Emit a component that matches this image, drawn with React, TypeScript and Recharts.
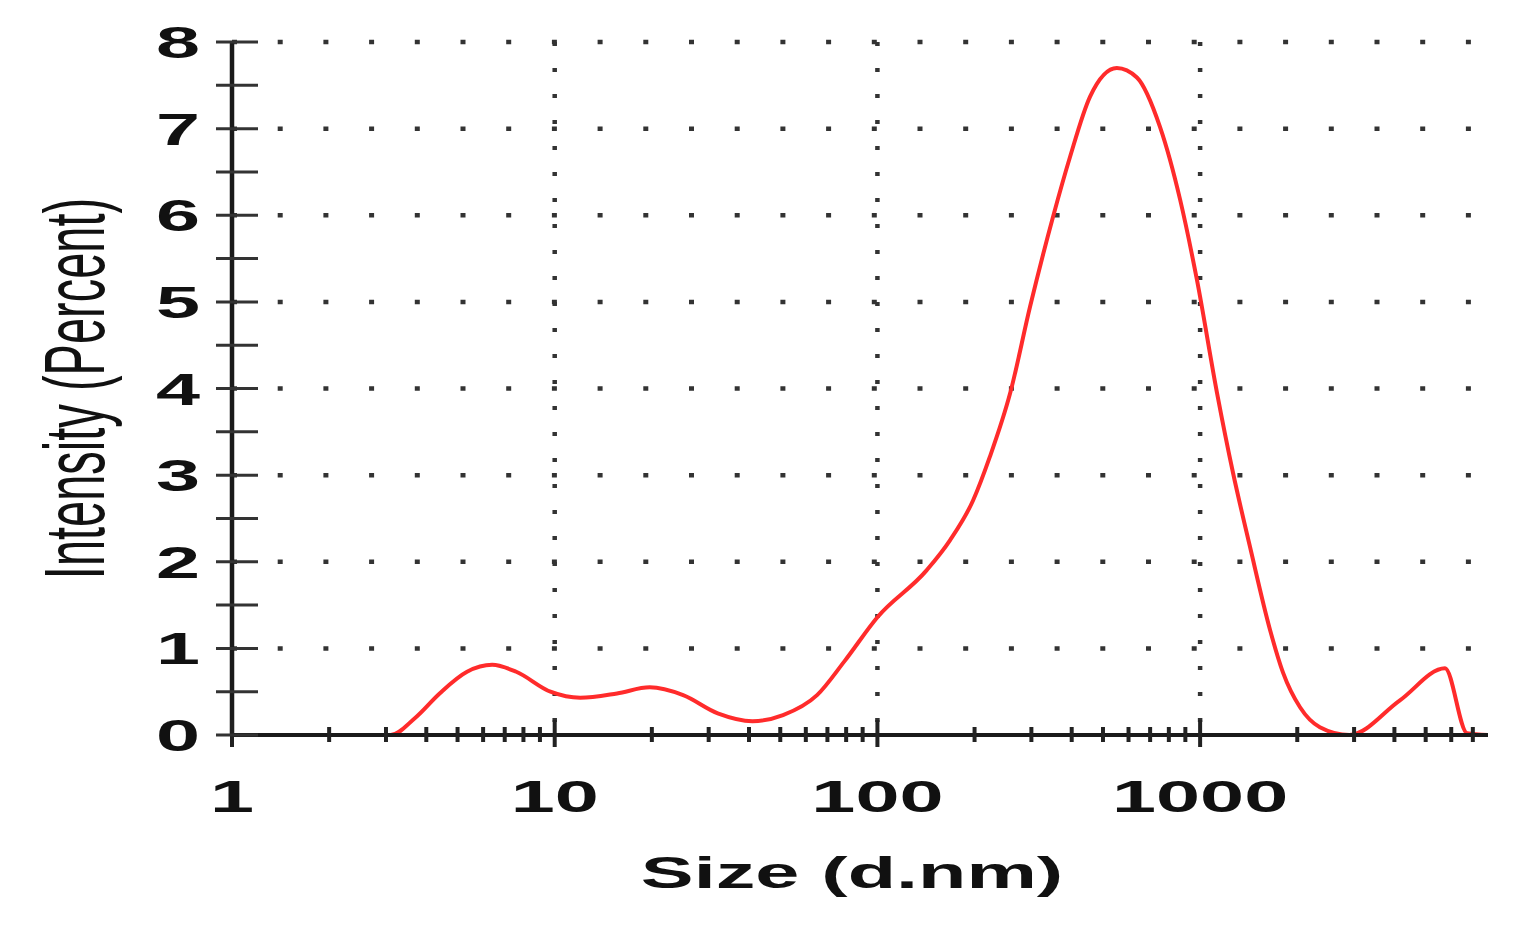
import React from "react";
import { LineChart, Line, XAxis, YAxis, CartesianGrid } from "recharts";

const sizes = [1, 2, 3.1, 3.7, 4.4, 5.35, 6.4, 7.6, 9.7, 12, 15.6, 19.7, 25, 32, 41, 51, 65, 79, 100, 142, 168, 198, 223, 258, 297, 350, 395, 456, 552, 637, 751, 867, 978, 1128, 1264, 1428, 1648, 1807, 2040, 2350, 2900, 4160, 5740, 6720, 7800];
const intensity = [0, 0, 0, 0.2, 0.48, 0.73, 0.81, 0.73, 0.5, 0.43, 0.48, 0.55, 0.46, 0.25, 0.16, 0.23, 0.46, 0.85, 1.36, 1.9, 2.25, 2.71, 3.21, 3.95, 4.94, 5.98, 6.67, 7.37, 7.7, 7.59, 7.02, 6.18, 5.25, 3.95, 3.03, 2.17, 1.21, 0.72, 0.32, 0.09, 0, 0.4, 0.77, 0.02, 0];

const xLabelTicks = [1, 10, 100, 1000];
const xMinorTicks = [2, 3, 4, 5, 6, 7, 8, 9, 20, 30, 40, 50, 60, 70, 80, 90, 200, 300, 400, 500, 600, 700, 800, 900, 2000, 3000, 4000, 5000, 6000, 7000];
const yTicks = [0, 0.5, 1, 1.5, 2, 2.5, 3, 3.5, 4, 4.5, 5, 5.5, 6, 6.5, 7, 7.5, 8];
const yLabelTicks = [0, 1, 2, 3, 4, 5, 6, 7, 8];
const gridX = [10, 100, 1000];
const gridY = [1, 2, 3, 4, 5, 6, 7, 8];

const data = sizes.map((s, i) => ({ size: s, value: intensity[i] }));
const allXTicks = [...xLabelTicks, ...xMinorTicks].sort((a, b) => a - b);

const FONT = "'Liberation Sans', Arial, sans-serif";

const XTick = (props: any) => {
  const { x, y, payload } = props;
  const v = payload.value;
  const major = xLabelTicks.includes(v);
  return (
    <g>
      <line x1={x} x2={x} y1={major ? y - 15 : y - 8} y2={major ? y + 12 : y + 7} stroke="#222" strokeWidth={4} />
      {major && (
        <text transform={`translate(${x},${y + 77}) scale(1.8,1)`} textAnchor="middle" fontFamily={FONT} fontWeight="bold" fontSize={44} fill="#111">
          {v}
        </text>
      )}
    </g>
  );
};

const YTick = (props: any) => {
  const { x, y, payload } = props;
  const v = payload.value;
  const labeled = yLabelTicks.includes(v);
  return (
    <g>
      <line x1={x - 16} x2={x + 26} y1={y} y2={y} stroke="#333" strokeWidth={3} />
      {labeled && (
        <text transform={`translate(${x - 32},${y + 16}) scale(1.8,1)`} textAnchor="end" fontFamily={FONT} fontWeight="bold" fontSize={44} fill="#111">
          {v}
        </text>
      )}
    </g>
  );
};

const XTitle = (props: any) => {
  const vb = props.viewBox;
  const cx = vb.x + vb.width / 2 - 8;
  return (
    <text transform={`translate(${cx},${vb.y + 153}) scale(1.8,1)`} textAnchor="middle" fontFamily={FONT} fontWeight="bold" fontSize={44} fill="#111">
      Size (d.nm)
    </text>
  );
};

const YTitle = (props: any) => {
  const vb = props.viewBox;
  const cy = vb.y + vb.height / 2;
  return (
    <text transform={`translate(67,${cy}) scale(1.8,1) rotate(-90)`} textAnchor="middle" dominantBaseline="central" fontFamily={FONT} fontSize={47} fill="#111">
      Intensity (Percent)
    </text>
  );
};

export default function App() {
  return (
    <div style={{ background: "#fff" }}>
      <LineChart width={1503} height={919} data={data} margin={{ top: 34, right: 23, left: 0, bottom: 0 }}>
        <CartesianGrid
          horizontal={false}
          verticalValues={gridX}
          stroke="#333"
          strokeWidth={4.5}
          strokeDasharray="4 22"
        />
        <CartesianGrid
          vertical={false}
          horizontalValues={gridY}
          stroke="#333"
          strokeWidth={4.5}
          strokeDasharray="5 40.7"
        />
        <XAxis
          dataKey="size"
          type="number"
          scale="log"
          domain={[1, 7800]}
          allowDataOverflow
          ticks={allXTicks}
          interval={0}
          tickSize={0}
          tickMargin={0}
          tickLine={false}
          tick={<XTick />}
          height={192}
          axisLine={{ stroke: "#1a1a1a", strokeWidth: 4 }}
          label={{ content: <XTitle /> }}
        />
        <YAxis
          type="number"
          domain={[0, 8]}
          ticks={yTicks}
          interval={0}
          tickSize={0}
          tickMargin={0}
          tickLine={false}
          tick={<YTick />}
          width={224}
          axisLine={{ stroke: "#1a1a1a", strokeWidth: 4.5 }}
          label={{ content: <YTitle /> }}
        />
        <Line
          type="monotone"
          dataKey="value"
          stroke="#ff2b2b"
          strokeWidth={4}
          dot={false}
          isAnimationActive={false}
        />
      </LineChart>
    </div>
  );
}
